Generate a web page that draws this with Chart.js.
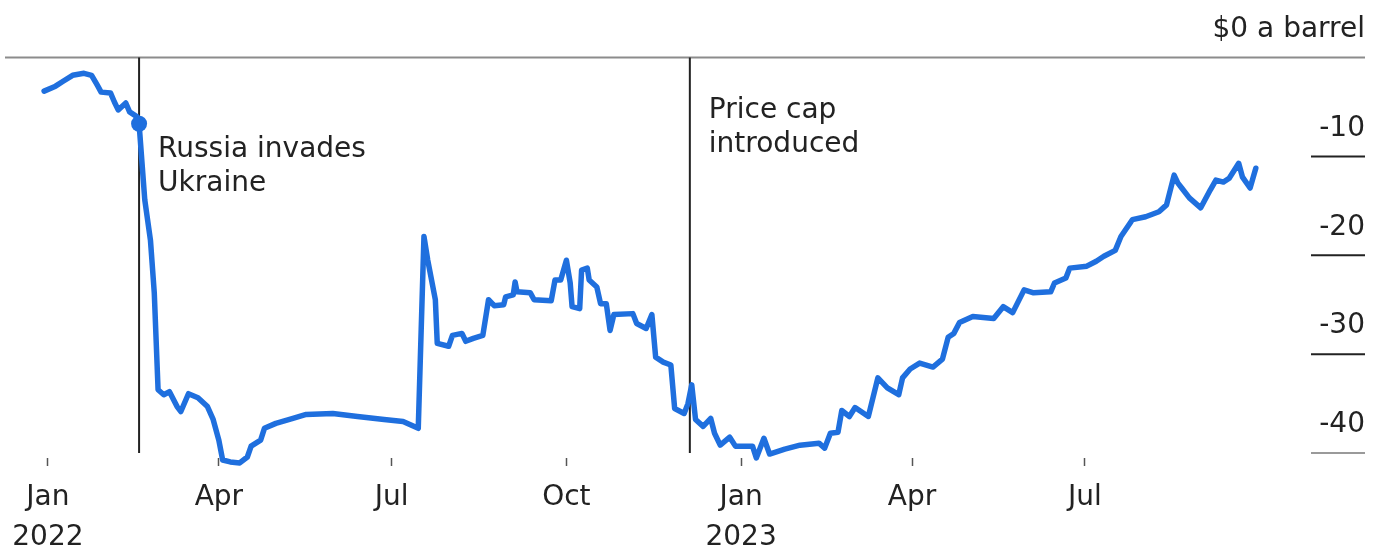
<!DOCTYPE html>
<html>
<head>
<meta charset="utf-8">
<script src="https://cdn.jsdelivr.net/npm/chart.js@4.4.0/dist/chart.umd.min.js"></script>
<style>
  html, body { margin: 0; padding: 0; background: #fff; }
  #wrap { width: 1385px; height: 553px; position: relative; }
</style>
</head>
<body>
<div id="wrap"><canvas id="chart"></canvas></div>
<script>
// days counted from 1 Jan 2022
const days = [
  -2, 4, 8, 13, 19, 23, 26, 28, 33, 35,
  37, 41, 43, 47, 48, 51, 54, 56, 58, 61,
  64, 68, 70, 74, 79, 84, 87, 90, 92, 96,
  101, 105, 107, 112, 114, 120, 129, 136, 150, 163,
  177, 187, 195, 198, 200, 204, 205, 211, 213, 218,
  220, 224, 229, 232, 235, 240, 241, 245, 246, 247,
  254, 256, 265, 267, 270, 273, 275, 276, 280, 281,
  284, 285, 289, 291, 294, 296, 298, 308, 310, 315,
  318, 320, 324, 328, 330, 335, 337, 339, 341, 345,
  349, 351, 354, 359, 362, 371, 373, 377, 380, 388,
  396, 406, 409, 412, 416, 418, 422, 425, 432, 437,
  442, 448, 450, 454, 459, 466, 471, 474, 477, 480,
  487, 498, 503, 508, 514, 519, 528, 530, 536, 538,
  547, 552, 556, 562, 565, 571, 578, 585, 589, 593,
  595, 597, 601, 607, 612, 615, 619, 622, 627, 629,
  633, 636,
];

// Urals discount to Brent, $ a barrel
const discount = [
  -3.4, -2.9, -2.4, -1.8, -1.6, -1.8, -2.8, -3.5, -3.6, -4.5,
  -5.3, -4.6, -5.5, -6.0, -6.7, -14.4, -18.5, -23.8, -33.6, -34.1,
  -33.8, -35.3, -35.8, -34.0, -34.4, -35.3, -36.6, -38.7, -40.7, -40.9,
  -41.0, -40.4, -39.3, -38.7, -37.5, -37.0, -36.5, -36.1, -36.0, -36.3,
  -36.6, -36.8, -37.5, -18.1, -20.5, -24.5, -28.9, -29.2, -28.1, -27.9,
  -28.7, -28.4, -28.1, -24.5, -25.1, -25.0, -24.2, -24.0, -22.7, -23.7,
  -23.8, -24.5, -24.6, -22.5, -22.5, -20.5, -22.8, -25.2, -25.4, -21.5,
  -21.3, -22.5, -23.2, -24.9, -24.9, -27.6, -26.0, -25.9, -26.9, -27.4,
  -26.0, -30.3, -30.8, -31.1, -35.5, -36.0, -35.0, -33.1, -36.6, -37.3,
  -36.5, -38.0, -39.2, -38.4, -39.3, -39.3, -40.5, -38.5, -40.1, -39.6,
  -39.2, -39.0, -39.5, -38.0, -37.9, -35.7, -36.3, -35.4, -36.3, -32.4,
  -33.4, -34.1, -32.4, -31.5, -30.9, -31.3, -30.5, -28.3, -27.9, -26.8,
  -26.2, -26.4, -25.2, -25.8, -23.5, -23.8, -23.7, -22.8, -22.3, -21.3,
  -21.1, -20.6, -20.1, -19.5, -18.1, -16.4, -16.1, -15.6, -14.9, -11.9,
  -12.7, -13.2, -14.2, -15.2, -13.4, -12.4, -12.6, -12.2, -10.7, -12.1,
  -13.2, -11.2,
];

const tickDates = ['2022-01-01', '2022-04-01', '2022-07-01', '2022-10-01', '2023-01-01', '2023-04-01', '2023-07-01'];
const tickMonths = ['Jan', 'Apr', 'Jul', 'Oct', 'Jan', 'Apr', 'Jul'];
const tickYears = ['2022', '', '', '', '2023', '', ''];

const yTicks = [0, -10, -20, -30, -40];
const yTickLabels = ['$0 a barrel', '-10', '-20', '-30', '-40'];

const eventDays = [48, 338];
const eventLabels = [['Russia invades', 'Ukraine'], ['Price cap', 'introduced']];
const eventLabelLevels = [-9.3, -5.4];

const FONT = '"DejaVu Sans", sans-serif';
const INK = '#222222';
const BLUE = '#1f6fde';

const dayOf = (s) => {
  const [yy, mm, dd] = s.split('-').map(Number);
  return (Date.UTC(yy, mm - 1, dd) - Date.UTC(2022, 0, 1)) / 86400000;
};
const tickDays = tickDates.map(dayOf);

const decorations = {
  id: 'decorations',
  beforeDatasetsDraw(chart) {
    const { ctx, chartArea, scales: { x, y } } = chart;
    ctx.save();

    // zero rule across the top
    const y0 = y.getPixelForValue(0);
    ctx.strokeStyle = '#8c8c8c';
    ctx.lineWidth = 2;
    ctx.beginPath();
    ctx.moveTo(chartArea.left, y0);
    ctx.lineTo(chartArea.right, y0);
    ctx.stroke();

    // short rules under the value labels
    yTicks.slice(1).forEach((v, i) => {
      const py = y.getPixelForValue(v);
      ctx.strokeStyle = i === yTicks.length - 2 ? '#9a9a9a' : INK;
      ctx.beginPath();
      ctx.moveTo(chartArea.right - 54, py);
      ctx.lineTo(chartArea.right, py);
      ctx.stroke();
    });

    // event markers
    eventDays.forEach((d, i) => {
      const px = x.getPixelForValue(d);
      ctx.strokeStyle = INK;
      ctx.lineWidth = 2;
      ctx.beginPath();
      ctx.moveTo(px, y0);
      ctx.lineTo(px, y.getPixelForValue(-40));
      ctx.stroke();

      ctx.fillStyle = INK;
      ctx.font = `28px ${FONT}`;
      ctx.textAlign = 'left';
      ctx.textBaseline = 'middle';
      const ty = y.getPixelForValue(eventLabelLevels[i]);
      eventLabels[i].forEach((line, j) => ctx.fillText(line, px + 19, ty + j * 34));
    });

    ctx.restore();
  },
};

new Chart(document.getElementById('chart'), {
  type: 'line',
  data: {
    datasets: [{
      data: days.map((d, i) => ({ x: d, y: discount[i] })),
      borderColor: BLUE,
      backgroundColor: BLUE,
      borderWidth: 5.5,
      borderJoinStyle: 'round',
      borderCapStyle: 'round',
      tension: 0,
      clip: false,
      pointRadius: (c) => (days[c.dataIndex] === eventDays[0] ? 8 : 0),
      pointBackgroundColor: BLUE,
      pointBorderWidth: 0,
    }],
  },
  plugins: [decorations],
  options: {
    responsive: true,
    maintainAspectRatio: false,
    animation: false,
    layout: {
      padding: { left: 5, right: 20, top: 57.5, bottom: 0 },
    },
    plugins: {
      legend: { display: false },
      tooltip: { enabled: false },
    },
    scales: {
      x: {
        type: 'linear',
        min: -22.6,
        max: 693.5,
        afterBuildTicks: (scale) => {
          scale.ticks = tickDays.map((v) => ({ value: v }));
        },
        afterFit: (scale) => {
          scale.height = 95;
        },
        border: { display: false },
        grid: {
          drawOnChartArea: false,
          drawTicks: true,
          tickLength: 8,
          tickColor: '#555',
          tickWidth: 1.5,
        },
        ticks: {
          autoSkip: false,
          maxRotation: 0,
          padding: 12,
          color: INK,
          font: { family: FONT, size: 28, lineHeight: 40 / 28 },
          callback: (value, index) => (tickYears[index] ? [tickMonths[index], tickYears[index]] : tickMonths[index]),
        },
      },
      y: {
        position: 'right',
        min: -40.5,
        max: 0,
        afterBuildTicks: (scale) => {
          scale.ticks = yTicks.map((v) => ({ value: v }));
        },
        afterFit: (scale) => {
          scale.width = 0;
        },
        border: { display: false },
        grid: { display: false },
        ticks: {
          mirror: true,
          padding: 0,
          labelOffset: -28,
          color: INK,
          font: { family: FONT, size: 28 },
          callback: (value, index) => yTickLabels[index],
        },
      },
    },
  },
});
</script>
</body>
</html>
